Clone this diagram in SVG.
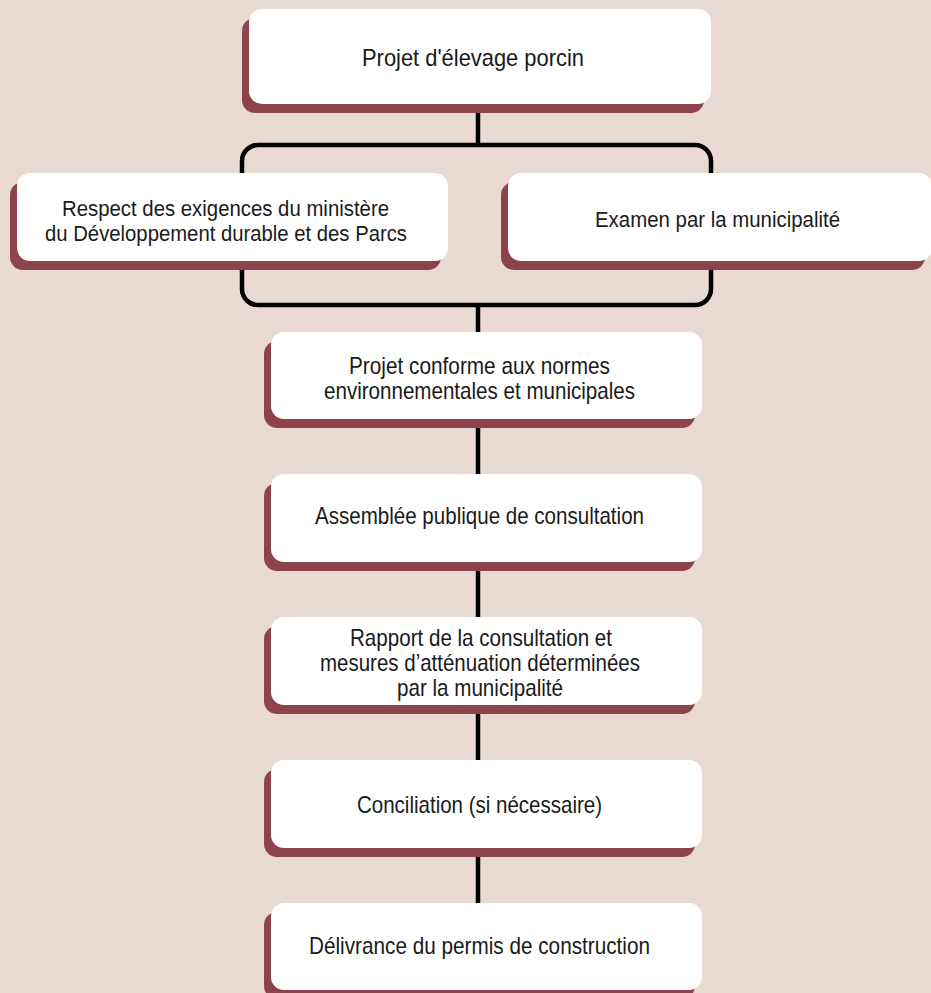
<svg xmlns="http://www.w3.org/2000/svg" width="931" height="993" viewBox="0 0 931 993">
<style>
.bg{fill:#E8DAD3}
.sh{fill:#8C434B}
.bx{fill:#FFFFFF}
.ln{fill:none;stroke:#000000;stroke-width:4.5}
text{font-family:"Liberation Sans",Arial,sans-serif;font-size:24px;fill:#1A1A1A;text-anchor:middle}
.sm{font-size:22px}
</style>
<rect class="bg" x="0" y="0" width="931" height="993"/>
<g id="connectors">
<line class="ln" x1="478" y1="100" x2="478" y2="145"/>
<rect class="ln" x="242" y="145" width="469" height="160" rx="16" ry="16"/>
<line class="ln" x1="478" y1="305" x2="478" y2="340"/>
<line class="ln" x1="478" y1="415" x2="478" y2="480"/>
<line class="ln" x1="478" y1="555" x2="478" y2="625"/>
<line class="ln" x1="478" y1="700" x2="478" y2="765"/>
<line class="ln" x1="478" y1="840" x2="478" y2="910"/>
</g>
<g id="n1">
<rect class="sh" x="242" y="18" width="462" height="95" rx="13"/>
<rect class="bx" x="249" y="9" width="462" height="95" rx="13"/>
<text x="473" y="66" textLength="222" lengthAdjust="spacingAndGlyphs">Projet d'élevage porcin</text>
</g>
<g id="n2">
<rect class="sh" x="10" y="182" width="431" height="88" rx="13"/>
<rect class="bx" x="17" y="173" width="431" height="88" rx="13"/>
<text class="sm" x="225.5" y="216" textLength="327" lengthAdjust="spacingAndGlyphs">Respect des exigences du ministère</text>
<text class="sm" x="226" y="241" textLength="362" lengthAdjust="spacingAndGlyphs">du Développement durable et des Parcs</text>
</g>
<g id="n3">
<rect class="sh" x="501" y="182" width="424" height="88" rx="13"/>
<rect class="bx" x="508" y="173" width="424" height="88" rx="13"/>
<text class="sm" x="717.5" y="227" textLength="245" lengthAdjust="spacingAndGlyphs">Examen par la municipalité</text>
</g>
<g id="n4">
<rect class="sh" x="264" y="341" width="431" height="87" rx="13"/>
<rect class="bx" x="271" y="332" width="431" height="87" rx="13"/>
<text x="479.5" y="374" textLength="261" lengthAdjust="spacingAndGlyphs">Projet conforme aux normes</text>
<text x="479.5" y="399" textLength="311" lengthAdjust="spacingAndGlyphs">environnementales et municipales</text>
</g>
<g id="n5">
<rect class="sh" x="264" y="483" width="431" height="88" rx="13"/>
<rect class="bx" x="271" y="474" width="431" height="88" rx="13"/>
<text x="479.5" y="524" textLength="329" lengthAdjust="spacingAndGlyphs">Assemblée publique de consultation</text>
</g>
<g id="n6">
<rect class="sh" x="264" y="626" width="431" height="88" rx="13"/>
<rect class="bx" x="271" y="617" width="431" height="88" rx="13"/>
<text x="481" y="646" textLength="262" lengthAdjust="spacingAndGlyphs">Rapport de la consultation et</text>
<text x="480" y="671" textLength="320" lengthAdjust="spacingAndGlyphs">mesures d’atténuation déterminées</text>
<text x="480" y="696" textLength="166" lengthAdjust="spacingAndGlyphs">par la municipalité</text>
</g>
<g id="n7">
<rect class="sh" x="264" y="769" width="431" height="88" rx="13"/>
<rect class="bx" x="271" y="760" width="431" height="88" rx="13"/>
<text x="479.5" y="813" textLength="245" lengthAdjust="spacingAndGlyphs">Conciliation (si nécessaire)</text>
</g>
<g id="n8">
<rect class="sh" x="264" y="912" width="431" height="87" rx="13"/>
<rect class="bx" x="271" y="903" width="431" height="87" rx="13"/>
<text x="479.5" y="954" textLength="341" lengthAdjust="spacingAndGlyphs">Délivrance du permis de construction</text>
</g>
</svg>
